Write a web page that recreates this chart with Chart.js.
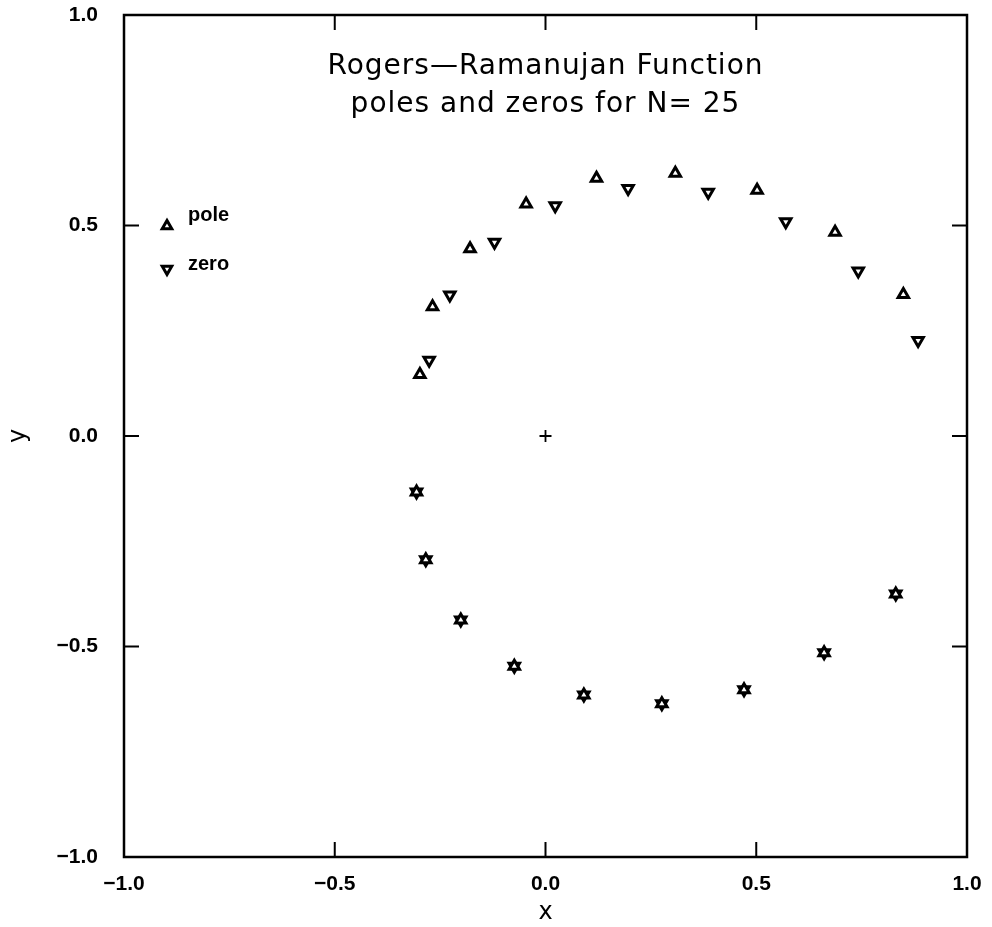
<!DOCTYPE html>
<html>
<head>
<meta charset="utf-8">
<script src="https://cdn.jsdelivr.net/npm/chart.js@4/dist/chart.umd.min.js"></script>
<style>
   html, body { margin: 0; padding: 0; background: #fff; }
   #wrap { width: 992px; height: 927px; }
</style>
</head>
<body>
<div id="wrap"><canvas id="rrChart"></canvas></div>
<script>
// Poles that do not coincide with a zero (upper half)
const poleX = [-0.298, -0.268, -0.179, -0.046, 0.121, 0.308, 0.502, 0.687, 0.849];
const poleY = [0.146, 0.307, 0.445, 0.551, 0.612, 0.624, 0.584, 0.484, 0.336];

// Zeros that do not coincide with a pole (upper half)
const zeroX = [-0.276, -0.227, -0.121, 0.023, 0.196, 0.386, 0.570, 0.742, 0.884];
const zeroY = [0.180, 0.335, 0.460, 0.547, 0.588, 0.579, 0.509, 0.392, 0.227];

// Points where a pole and a zero sit on top of each other (lower half)
const sharedX = [-0.306, -0.284, -0.201, -0.074, 0.091, 0.276, 0.471, 0.661, 0.831];
const sharedY = [-0.133, -0.294, -0.437, -0.547, -0.615, -0.636, -0.603, -0.515, -0.375];

// Origin marker
const originX = [0];
const originY = [0];

const tickValues = [-1, -0.5, 0, 0.5, 1];
const titleLines = ['Rogers\u2014Ramanujan Function', 'poles and zeros for N= 25'];
const legendLabels = ['pole', 'zero'];

const toPoints = (xs, ys) => xs.map((x, i) => ({ x: x, y: ys[i] }));

const fmtTick = v => v.toFixed(1).replace('-', '\u2212');

// Frame, inward ticks, title and inset legend
const framePlugin = {
   id: 'frame',
   afterDraw(chart) {
      const ctx = chart.ctx;
      const a = chart.chartArea;
      const xs = chart.scales.x, ys = chart.scales.y;
      const tl = 15;
      ctx.save();
      ctx.strokeStyle = '#000';
      ctx.lineWidth = 2.5;
      ctx.strokeRect(a.left, a.top, a.right - a.left, a.bottom - a.top);

      ctx.lineWidth = 2;
      ctx.beginPath();
      tickValues.forEach(v => {
         const px = xs.getPixelForValue(v);
         ctx.moveTo(px, a.bottom); ctx.lineTo(px, a.bottom - tl);
         ctx.moveTo(px, a.top); ctx.lineTo(px, a.top + tl);
         const py = ys.getPixelForValue(v);
         ctx.moveTo(a.left, py); ctx.lineTo(a.left + tl, py);
         ctx.moveTo(a.right, py); ctx.lineTo(a.right - tl, py);
      });
      ctx.stroke();

      // Title inside the plot
      ctx.fillStyle = '#000';
      ctx.font = '28px "DejaVu Sans"';
      ctx.letterSpacing = '1px';
      ctx.textAlign = 'center';
      ctx.textBaseline = 'middle';
      const cx = xs.getPixelForValue(0);
      ctx.fillText(titleLines[0], cx, 67);
      ctx.fillText(titleLines[1], cx, 105);
      ctx.letterSpacing = '0px';

      // Legend inside the plot
      const styles = [0, 180];
      ctx.font = 'bold 20px "Liberation Sans"';
      ctx.textAlign = 'left';
      legendLabels.forEach((lbl, i) => {
         const my = i === 0 ? 226 : 269;
         ctx.fillStyle = '#fff';
         ctx.strokeStyle = '#000';
         ctx.lineWidth = 3;
         Chart.helpers.drawPoint(ctx, {
            pointStyle: 'triangle', rotation: styles[i], radius: 5.5, borderWidth: 3
         }, 167, my);
         ctx.fillStyle = '#000';
         ctx.fillText(lbl, 188, i === 0 ? 215 : 264);
      });
      ctx.restore();
   }
};

const markerBase = {
   showLine: false,
   pointStyle: 'triangle',
   pointRadius: 6,
   pointHoverRadius: 6,
   pointBorderWidth: 3,
   pointBackgroundColor: '#fff',
   pointBorderColor: '#000'
};

new Chart(document.getElementById('rrChart'), {
   type: 'scatter',
   data: {
      datasets: [
         { ...markerBase, label: 'pole', data: toPoints(poleX.concat(sharedX), poleY.concat(sharedY)), rotation: 0 },
         { ...markerBase, label: 'zero', data: toPoints(zeroX.concat(sharedX), zeroY.concat(sharedY)), rotation: 180 },
         {
            label: 'origin', data: toPoints(originX, originY), showLine: false,
            pointStyle: 'cross', pointRadius: 6, pointBorderWidth: 1.8, pointBorderColor: '#000'
         }
      ]
   },
   options: {
      responsive: true,
      maintainAspectRatio: false,
      animation: false,
      layout: { padding: { top: 15, right: 25, left: 0, bottom: 0 } },
      plugins: { legend: { display: false }, tooltip: { enabled: false } },
      scales: {
         x: {
            type: 'linear', min: -1, max: 1,
            afterBuildTicks: s => { s.ticks = tickValues.map(v => ({ value: v })); },
            afterFit: s => { s.height = 70; s.paddingLeft = 0; s.paddingRight = 0; },
            grid: { display: false, drawTicks: false },
            border: { display: false },
            ticks: {
               padding: 15, color: '#000',
               font: { family: '"Liberation Sans"', size: 21, weight: 'bold' },
               callback: v => fmtTick(v), maxRotation: 0
            },
            title: {
               display: true, text: 'x', color: '#000', padding: { top: 3, bottom: 0 },
               font: { family: '"DejaVu Sans"', size: 24 }
            }
         },
         y: {
            type: 'linear', min: -1, max: 1,
            afterBuildTicks: s => { s.ticks = tickValues.map(v => ({ value: v })); },
            afterFit: s => { s.width = 124; s.paddingTop = 0; s.paddingBottom = 0; },
            grid: { display: false, drawTicks: false },
            border: { display: false },
            ticks: {
               padding: 26, color: '#000',
               font: { family: '"Liberation Sans"', size: 21, weight: 'bold' },
               callback: v => fmtTick(v)
            },
            title: {
               display: true, text: 'y', color: '#000', padding: { top: 4, bottom: 0 },
               font: { family: '"DejaVu Sans"', size: 24 }
            }
         }
      }
   },
   plugins: [framePlugin]
});
</script>
</body>
</html>
